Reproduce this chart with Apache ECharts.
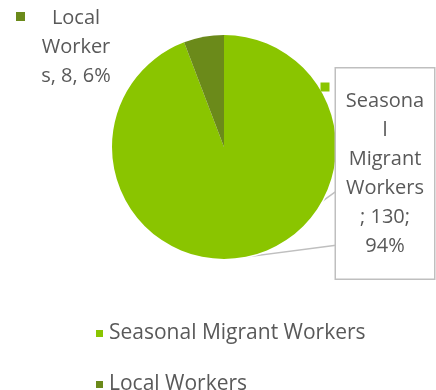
<!DOCTYPE html>
<html>
<head>
<meta charset="utf-8">
<script src="https://cdn.jsdelivr.net/npm/echarts@6/dist/echarts.min.js"></script>
<style>
  html, body { margin: 0; padding: 0; background: #fff; }
  #chart { width: 436px; height: 390px; }
</style>
</head>
<body>
<div id="chart"></div>
<script>
const categories = ['Seasonal Migrant Workers', 'Local Workers'];
const workerCounts = [130, 8];
const sliceColors = ['#8AC500', '#6B8A1A'];

const FONT = '"Open Sans", sans-serif';
const TEXT_COLOR = '#595959';
const BOX_LINE = '#BFBFBF';

// Data label text, wrapped the way the narrow label boxes wrap it
function labelText(p) {
  if (p.dataIndex === 0) {
    return 'Seasona\nl\nMigrant\nWorkers\n; ' + p.value + ';\n' + p.percent + '%';
  }
  return 'Local\nWorker\ns, ' + p.value + ', ' + p.percent + '%';
}

// Where each data label (and its colour key) sits
const labelSpots = [
  { x: 385, y: 173.5, keyX: 325, keyY: 87 },
  { x: 76, y: 47, keyX: 20.5, keyY: 16.5 }
];
const calloutSize = { w: 98, h: 211 };

const pieData = categories.map((name, i) => ({
  name,
  value: workerCounts[i],
  itemStyle: { color: sliceColors[i] }
}));

// the large slice gets a boxed callout label; the small one plain text
const mainData = pieData.map((d, i) => i === 0
  ? Object.assign({}, d, {
      label: {
        backgroundColor: '#ffffff',
        borderColor: BOX_LINE,
        borderWidth: 1.5,
        padding: [19, 9, 17, 9],
        width: 80
      }
    })
  : Object.assign({}, d, { labelLine: { show: false } }));

const chart = echarts.init(document.getElementById('chart'), null, { renderer: 'canvas' });

const common = {
  type: 'pie',
  center: [224, 147],
  radius: [0, 112],
  startAngle: 90,
  clockwise: true,
  percentPrecision: 0,
  animation: false,
  emphasis: { disabled: true }
};

chart.setOption({
  backgroundColor: '#ffffff',
  legend: {
    orient: 'vertical',
    left: 89,
    top: 318,
    height: 90,
    itemWidth: 9,
    itemHeight: 9,
    itemGap: 30,
    icon: 'rect',
    data: categories,
    textStyle: { fontFamily: FONT, fontSize: 21, color: TEXT_COLOR, lineHeight: 20 }
  },
  series: [
    Object.assign({}, common, {
      name: 'Workers',
      data: mainData,
      itemStyle: { borderColor: '#ffffff', borderWidth: 3 },
      label: {
        show: true,
        position: 'outside',
        formatter: labelText,
        fontFamily: FONT,
        fontSize: 20,
        lineHeight: 29,
        color: TEXT_COLOR,
        align: 'center'
      },
      labelLine: { show: true, lineStyle: { color: BOX_LINE, width: 1.5 } },
      labelLayout: function (params) {
        const spot = labelSpots[params.dataIndex];
        const out = { x: spot.x, y: spot.y, align: 'center', verticalAlign: 'middle' };
        if (params.dataIndex === 0 && params.labelLinePoints) {
          // callout pointer: two edges from the box side to the slice
          const left = spot.x - calloutSize.w / 2;
          const top = spot.y - calloutSize.h / 2;
          const tip = params.labelLinePoints[0];
          out.labelLinePoints = [
            [left, top + calloutSize.h * 0.585],
            tip,
            [left, top + calloutSize.h * 0.84]
          ];
        }
        return out;
      }
    }),
    // colour keys that accompany each data label
    Object.assign({}, common, {
      name: 'Keys',
      data: pieData,
      silent: true,
      legendHoverLink: false,
      itemStyle: { color: 'rgba(0,0,0,0)' },
      label: {
        show: true,
        position: 'outside',
        formatter: p => (p.dataIndex === 0 ? '{a|}' : '{b|}'),
        rich: {
          a: { width: 9, height: 9, backgroundColor: sliceColors[0] },
          b: { width: 9, height: 9, backgroundColor: sliceColors[1] }
        }
      },
      labelLine: { show: false },
      labelLayout: function (params) {
        const spot = labelSpots[params.dataIndex];
        return { x: spot.keyX, y: spot.keyY, align: 'center', verticalAlign: 'middle' };
      }
    })
  ]
});
</script>
</body>
</html>
